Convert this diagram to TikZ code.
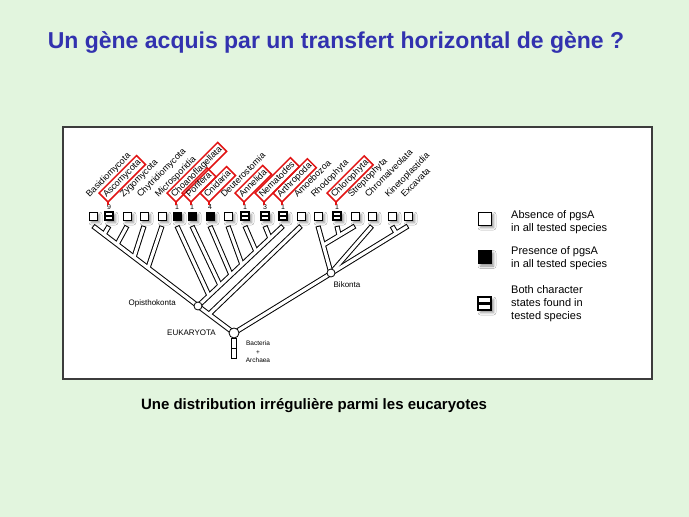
\documentclass[tikz,border=0pt]{standalone}
\usepackage{fontspec}
\setmainfont{Liberation Sans}
\usetikzlibrary{shadows,shadows.blur}
\definecolor{bgG}{RGB}{226,245,222}
\definecolor{titleB}{RGB}{50,50,175}
\definecolor{hlred}{RGB}{225,20,20}
\definecolor{frameC}{RGB}{60,60,60}
\begin{document}
\begin{tikzpicture}[x=1pt,y=-1pt,
  tax/.style={rotate=45, anchor=south west, inner sep=2pt, outer sep=0pt,
    text height=6.6pt, text depth=2pt, font=\fontsize{9}{10}\selectfont},
  hl/.style={draw=hlred, line width=1.5pt},
  tick/.style={hlred, line width=1.1pt},
  num/.style={inner sep=0pt, font=\fontsize{7}{8}\selectfont},
  tbox/.style={draw=black, line width=0.8pt, minimum size=8pt, inner sep=0pt,
    blur shadow={shadow xshift=2.5pt, shadow yshift=-2.5pt, shadow blur radius=2.5pt, shadow opacity=45}},
  wbox/.style={tbox, fill=white},
  kbox/.style={tbox, fill=black},
  sbox/.style={tbox, fill=white, line width=1.1pt,
    path picture={\draw[line width=1.3pt] (path picture bounding box.west) -- (path picture bounding box.east);}},
  outerb/.style={line width=5.2pt, black},
  innerb/.style={line width=3.2pt, white, shorten <=1pt},
  knot/.style={circle, draw, fill=white, line width=0.8pt, inner sep=0pt},
  lbl/.style={inner sep=0pt, font=\fontsize{8}{9.5}\selectfont},
  lbox/.style={draw=black, line width=0.8pt, minimum size=13pt, inner sep=0pt,
    blur shadow={shadow xshift=2.5pt, shadow yshift=-2.5pt, shadow blur radius=2.5pt, shadow opacity=45}},
  legtxt/.style={anchor=west, align=left, inner sep=0pt, font=\fontsize{11}{12.8}\selectfont}
]
\useasboundingbox (0,0) rectangle (689,517);
\fill[bgG] (0,0) rectangle (689,517);

% title and caption
\node[anchor=base, text=titleB, font=\bfseries\fontsize{23}{27}\selectfont] (title) at (336,48)
  {Un gène acquis par un transfert horizontal de gène ?};
\node[anchor=base, font=\bfseries\fontsize{15}{18}\selectfont] (caption) at (314,409)
  {Une distribution irrégulière parmi les eucaryotes};

% frame
\draw[frameC, line width=1.2pt, fill=white] (63,127) rectangle (652,379);

% tip coordinates
\foreach \x [count=\i] in {93,109,127,144,162,177,192,210,228,245,265,283,301,318,337,355,372,392,408}
  \coordinate (t\i) at (\x,226);

% junctions
\coordinate (O) at (198,306);
\coordinate (E) at (234,333);
\coordinate (B) at (331,273);
\coordinate (j2) at (104,234.4);
\coordinate (j3) at (117,244.3);
\coordinate (j4) at (134,257.2);
\coordinate (j5) at (148,267.9);
\coordinate (j6) at (209,295.6);
\coordinate (j7) at (220,285.3);
\coordinate (j8) at (231,274.9);
\coordinate (j9) at (242,264.6);
\coordinate (j10) at (256,251.4);
\coordinate (j11) at (270,238.2);
\coordinate (jA) at (209,314.25);
\coordinate (jP) at (323.3,245);
\coordinate (j15) at (339,235);
\coordinate (j18) at (396,232.8);

% branches: black then white
\foreach \a/\b in {t1/O,t2/j2,t3/j3,t4/j4,t5/j5,t12/O,t6/j6,t7/j7,t8/j8,t9/j9,t10/j10,t11/j11,t13/jA,O/E,t19/E,t18/j18,t17/B,t14/B,t16/jP,t15/j15}
  \draw[outerb] (\a) -- (\b);
\foreach \a/\b in {t1/O,t2/j2,t3/j3,t4/j4,t5/j5,t12/O,t6/j6,t7/j7,t8/j8,t9/j9,t10/j10,t11/j11,t13/jA,O/E,t19/E,t18/j18,t17/B,t14/B,t16/jP,t15/j15}
  \draw[innerb] (\a) -- (\b);

% root stem
\draw[line width=0.8pt, fill=white] (231.5,338) rectangle (236.5,348);
\draw[line width=0.8pt, fill=white] (231.5,348) rectangle (236.5,358);

% internal nodes
\node[knot, minimum size=8pt] (nO) at (O) {};
\node[knot, minimum size=8pt] (nB) at (B) {};
\node[knot, minimum size=10pt] (nE) at (E) {};

\node[lbl, anchor=east] (lO) at (176,303) {Opisthokonta};
\node[lbl, anchor=east] (lE) at (216,333) {EUKARYOTA};
\node[lbl] (lB) at (347,285) {Bikonta};
\node[lbl, align=center, font=\fontsize{6.5}{8.6}\selectfont] (lBA) at (258,352) {Bacteria\\+\\Archaea};

% character boxes
\node[wbox] (b1) at (93,216) {};
\node[sbox] (b2) at (109,216) {};
\node[wbox] (b3) at (127,216) {};
\node[wbox] (b4) at (144,216) {};
\node[wbox] (b5) at (162,216) {};
\node[kbox] (b6) at (177,216) {};
\node[kbox] (b7) at (192,216) {};
\node[kbox] (b8) at (210,216) {};
\node[wbox] (b9) at (228,216) {};
\node[sbox] (b10) at (245,216) {};
\node[sbox] (b11) at (265,216) {};
\node[sbox] (b12) at (283,216) {};
\node[wbox] (b13) at (301,216) {};
\node[wbox] (b14) at (318,216) {};
\node[sbox] (b15) at (337,216) {};
\node[wbox] (b16) at (355,216) {};
\node[wbox] (b17) at (372,216) {};
\node[wbox] (b18) at (392,216) {};
\node[wbox] (b19) at (408,216) {};

% numbers
\node[num] (n2) at (109,207.5) {9};
\node[num] (n6) at (177,207.5) {1};
\node[num] (n7) at (192,207.5) {1};
\node[num] (n8) at (210,207.5) {4};
\node[num] (n10) at (245,207.5) {1};
\node[num] (n11) at (265,207.5) {3};
\node[num] (n12) at (283,207.5) {1};
\node[num] (n15) at (337,207.5) {1};

% taxon labels
\node[tax] (l1) at (91,202) {Basidiomycota};
\node[tax] (l3) at (125,202) {Zygomycota};
\node[tax] (l4) at (142,202) {Chytridiomycota};
\node[tax] (l5) at (160,202) {Microsporidia};
\node[tax] (l9) at (226,202) {Deuterostomia};
\node[tax] (l13) at (299,202) {Amoebozoa};
\node[tax] (l14) at (316,202) {Rhodophyta};
\node[tax] (l16) at (353,202) {Streptophyta};
\node[tax] (l17) at (370,202) {Chromalveolata};
\node[tax] (l18) at (390,202) {Kinetoplastidia};
\node[tax] (l19) at (406,202) {Excavata};
\node[tax, hl] (l2) at (108,202) {Ascomycota};
\node[tax, hl] (l6) at (176,202) {Choanoflagellata};
\node[tax, hl] (l7) at (191,202) {Porifera};
\node[tax, hl] (l8) at (209,202) {Cnidaria};
\node[tax, hl] (l10) at (244,202) {Annelida};
\node[tax, hl] (l11) at (264,202) {Nematodes};
\node[tax, hl] (l12) at (282,202) {Arthropoda};
\node[tax, hl] (l15) at (336,202) {Chlorophyta};

\foreach \i in {2,6,7,8,10,11,12,15}
  \draw[tick] (l\i.south west) -- (l\i.south west |- n\i.north);

% legend
\node[lbox, fill=white] (lg1) at (484.5,218.5) {};
\node[lbox, fill=black] (lg2) at (484.5,257) {};
\node[lbox, fill=white, line width=2.4pt,
  path picture={\draw[line width=2.6pt] (path picture bounding box.west) -- (path picture bounding box.east);}] (lg3) at (484.5,303.5) {};
\node[legtxt] (lt1) at (511,222) {Absence of pgsA\\in all tested species};
\node[legtxt] (lt2) at (511,258.5) {Presence of pgsA\\in all tested species};
\node[legtxt] (lt3) at (511,303.5) {Both character\\states found in\\tested species};
\end{tikzpicture}
\end{document}
